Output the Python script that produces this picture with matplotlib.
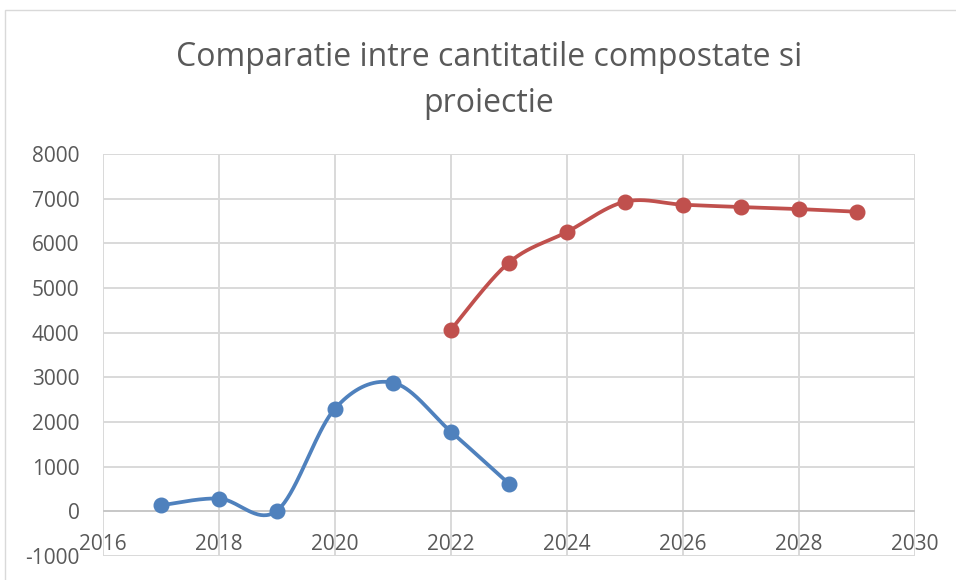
import numpy as np
import matplotlib
matplotlib.use("Agg")
from matplotlib import pyplot as plt
from matplotlib.patches import Rectangle

plt.rcParams['font.family'] = ['Open Sans', 'DejaVu Sans']
plt.rcParams['axes.unicode_minus'] = False

# data
years_real = [2017, 2018, 2019, 2020, 2021, 2022, 2023]
compost_real = [135, 286, 15, 2301, 2880, 1782, 617]

years_proj = [2022, 2023, 2024, 2025, 2026, 2027, 2028, 2029]
compost_proj = [4068, 5570, 6256, 6932, 6865, 6812, 6767, 6707]

x_ticks = [2016, 2018, 2020, 2022, 2024, 2026, 2028, 2030]
y_ticks = [-1000, 0, 1000, 2000, 3000, 4000, 5000, 6000, 7000, 8000]

title = "Comparatie intre cantitatile compostate si\nproiectie"

BLUE = '#4f81bd'
RED = '#c0504d'
GRID = '#d9d9d9'
TEXT = '#595959'


def smooth(xs, ys, n=40):
    # excel-like smoothed line (catmull-rom as cubic bezier)
    p = np.column_stack([xs, ys]).astype(float)
    out = []
    for i in range(len(p) - 1):
        p0 = p[i - 1] if i > 0 else p[i]
        p1 = p[i]
        p2 = p[i + 1]
        p3 = p[i + 2] if i + 2 < len(p) else p[i + 1]
        c1 = p1 + (p2 - p0) / 6
        c2 = p2 - (p3 - p1) / 6
        t = np.linspace(0, 1, n)[:, None]
        seg = ((1 - t) ** 3) * p1 + 3 * ((1 - t) ** 2) * t * c1 + 3 * (1 - t) * t ** 2 * c2 + t ** 3 * p2
        out.append(seg if i == 0 else seg[1:])
    out = np.vstack(out)
    return out[:, 0], out[:, 1]


fig = plt.figure(figsize=(9.56, 5.8), dpi=100)
ax = fig.add_axes([103 / 956, 1 - 556 / 580, (915 - 103) / 956, (556 - 154) / 580])

# chart frame
fig.patches.append(Rectangle((4.5 / 956, -0.1), 1.2, 1.1 - 10.5 / 580, transform=fig.transFigure,
                             fill=False, edgecolor=GRID, linewidth=1.0, zorder=0))

for xs, ys, col in [(years_real, compost_real, BLUE), (years_proj, compost_proj, RED)]:
    sx, sy = smooth(xs, ys)
    ax.plot(sx, sy, color=col, linewidth=2.7, solid_capstyle='round', zorder=3)
    ax.plot(xs, ys, linestyle='none', marker='o', markersize=10.5, color=col, zorder=4)

ax.set_xlim(2016, 2030)
ax.set_ylim(-1000, 8000)
ax.set_xticks(x_ticks)
ax.set_yticks(y_ticks)

ax.grid(True, color=GRID, linewidth=1.4, zorder=0)
ax.axhline(0, color='#c8c8c8', linewidth=1.4, zorder=1)
ax.set_axisbelow(True)

for s in ax.spines.values():
    s.set_visible(False)
ax.spines['bottom'].set_position(('data', 0))

ax.tick_params(axis='both', length=0, labelsize=15, labelcolor=TEXT)
ax.tick_params(axis='x', pad=16)
ax.tick_params(axis='y', pad=17)

fig.text(489 / 956, 1 - 66 / 580, "Comparatie intre cantitatile compostate si",
         ha='center', va='baseline', fontsize=23, color=TEXT)
fig.text(489 / 956, 1 - 112 / 580, "proiectie",
         ha='center', va='baseline', fontsize=23, color=TEXT)

fig.savefig('out.png', dpi=100)
